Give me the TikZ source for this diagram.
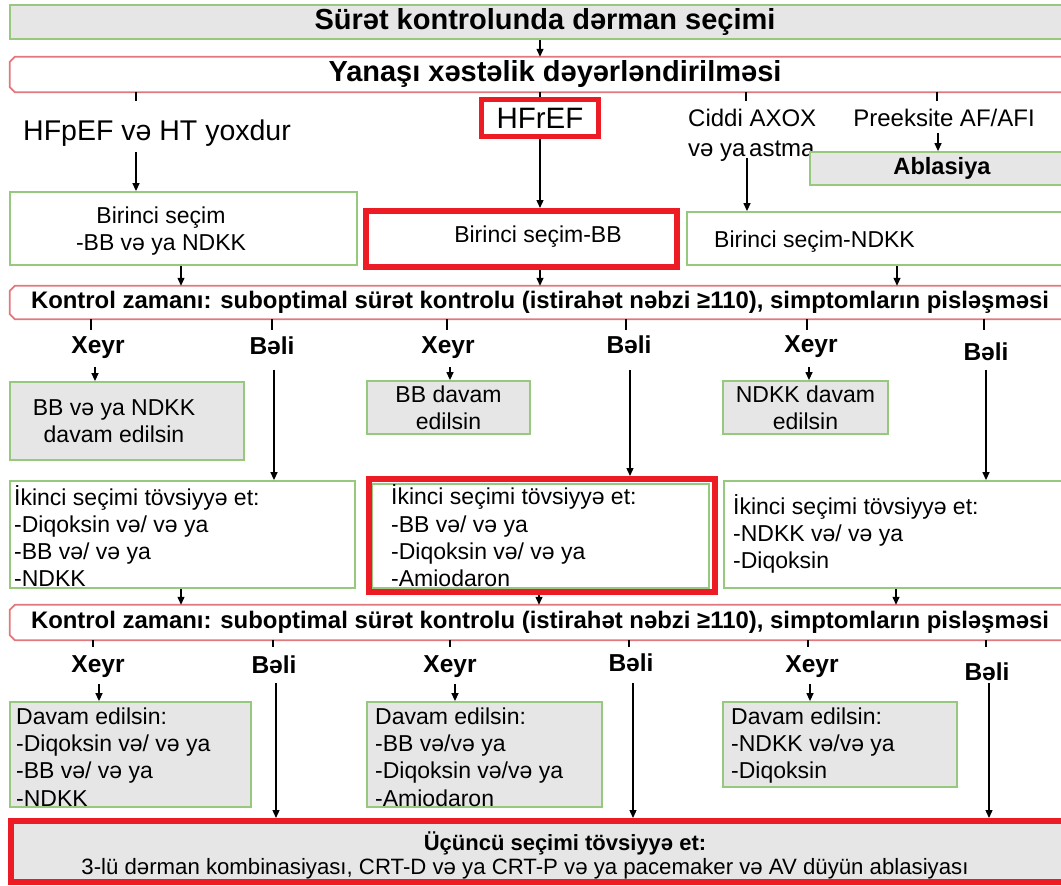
\documentclass[tikz,border=0pt]{standalone}
\usepackage{fontspec}
\setmainfont{Liberation Sans}
\usetikzlibrary{arrows.meta}

\definecolor{boxgreen}{RGB}{150,200,125}
\definecolor{boxgrey}{RGB}{230,230,230}
\definecolor{bannerpink}{RGB}{225,120,125}
\definecolor{alertred}{RGB}{237,28,36}

% outline with cut-off corners around a banner node
\newcommand\chamferframe[1]{%
  \draw[bannerline]
    ([xshift=5pt]#1.north west) -- ([xshift=-5pt]#1.north east)
    -- ([yshift=-5pt]#1.north east) -- ([yshift=5pt]#1.south east)
    -- ([xshift=-5pt]#1.south east) -- ([xshift=5pt]#1.south west)
    -- ([yshift=5pt]#1.south west) -- ([yshift=-5pt]#1.north west) -- cycle;}

\tikzset{
  greenbox/.style={draw=boxgreen, line width=1.8pt, fill=white, inner sep=0pt},
  greybox/.style={greenbox, fill=boxgrey},
  redframe/.style={draw=alertred, line width=6pt, fill=white, inner sep=0pt},
  banner/.style={rectangle, fill=white, inner sep=0pt},
  bannerline/.style={draw=bannerpink, line width=1.8pt, line join=miter},
  txt/.style={inner sep=0pt, font=\fontsize{23}{27.3}\selectfont},
  listtxt/.style={txt, anchor=west, align=left},
  ctrtxt/.style={txt, align=center, font=\fontsize{23}{27}\selectfont},
  headtxt/.style={font=\fontsize{29}{34}\selectfont\bfseries},
  bantxt/.style={font=\fontsize{23.9}{28}\selectfont\bfseries},
  answer/.style={inner sep=0pt, font=\fontsize{24.5}{28}\selectfont\bfseries},
  conn/.style={line width=1.3pt},
  arr/.style={conn, -{Triangle[length=8pt,width=7pt]}},
}

\begin{document}
\begin{tikzpicture}[x=1pt,y=-1pt]
\clip (0,0) rectangle (1061,886);
\fill[white] (0,0) rectangle (1061,886);

% ---------- heading and comorbidity banner ----------
\node[greybox, minimum width=1070pt, minimum height=34pt, headtxt] (title) at (545,22) {Sürət kontrolunda dərman seçimi};
\node[banner, minimum width=1090pt, minimum height=35pt, headtxt] (yan) at (555,74.5) {Yanaşı xəstəlik dəyərləndirilməsi};
\chamferframe{yan}

\coordinate (colA) at (136,0);
\coordinate (colB) at (540,0);
\coordinate (colC) at (747,0);
\coordinate (colD) at (938,0);

\draw[arr] (title.south -| colB) -- (yan.north -| colB);

% ---------- comorbidity branches ----------
\node[inner sep=0pt, font=\fontsize{28.5}{32}\selectfont] (hfpef) at (157,133) {HFpEF və HT yoxdur};
\node[redframe, line width=5pt, minimum width=117pt, minimum height=37pt,
      font=\fontsize{29.5}{32}\selectfont] (hfref) at (540,118) {HFrEF};
\node[inner sep=0pt, anchor=west, align=left, font=\fontsize{24}{30}\selectfont] (copd) at (688,135) {Ciddi AXOX\\və ya\hspace{-3pt} astma};
\node[inner sep=0pt, font=\fontsize{24}{28}\selectfont] (preex) at (944,118) {Preeksite AF/AFI};
\node[greybox, minimum width=264pt, minimum height=33pt, font=\fontsize{23.6}{28}\selectfont\bfseries] (abl) at (942,168.5) {Ablasiya};

\coordinate (stubA) at (136,101);
\coordinate (stubC) at (746,101);
\coordinate (stubD) at (937,101);
\draw[conn] (yan.south -| stubA) -- (stubA);
\draw[conn] (yan.south -| colB) -- (hfref.north);
\draw[conn] (yan.south -| stubC) -- (stubC);
\draw[conn] (yan.south -| stubD) -- (stubD);

% ---------- first choice ----------
\node[greenbox, minimum width=347pt, minimum height=73pt] (first1) at (183.5,228.5) {};
\node[ctrtxt] (first1t) at (161,231) {Birinci seçim\\-BB və ya NDKK};
\node[redframe, minimum width=311pt, minimum height=56pt] (first2) at (521.5,239) {};
\node[txt] (first2t) at (538,237) {Birinci seçim-BB};
\node[greenbox, minimum width=413pt, minimum height=53pt] (first3) at (893.5,238.5) {};
\node[txt, anchor=west] (first3t) at (714,242) {Birinci seçim-NDKK};

\coordinate (fromA) at (136,152);
\coordinate (fromC) at (747,158);
\coordinate (fromD) at (938,133);
\draw[arr] (fromA) -- (first1.north -| fromA);
\draw[arr] (hfref.south) -- (first2.north -| hfref.south);
\draw[arr] (fromC) -- (first3.north -| fromC);
\draw[arr] (fromD) -- (abl.north -| fromD);

% ---------- first check ----------
\node[banner, minimum width=1060pt, minimum height=33pt, bantxt] (chk1) at (540,302.5)
  {Kontrol zamanı: suboptimal sürət kontrolu (istirahət nəbzi ≥110), simptomların pisləşməsi};
\chamferframe{chk1}

\coordinate (colE) at (181,0);
\coordinate (colG) at (897,0);
\draw[arr] (first1.south -| colE) -- (chk1.north -| colE);
\draw[arr] (first2.south -| colB) -- (chk1.north -| colB);
\draw[arr] (first3.south -| colG) -- (chk1.north -| colG);

\foreach \x/\n in {91/a,272/b,447/c,626/d,807/e,984/f}{
  \coordinate (t1\n) at (\x,330);
  \draw[conn] (chk1.south -| t1\n) -- (t1\n);
}

\node[answer] (no1a) at (98,348) {Xeyr};
\node[answer] (yes1a) at (272,346) {Bəli};
\node[answer] (no1b) at (448,348) {Xeyr};
\node[answer] (yes1b) at (629,345) {Bəli};
\node[answer] (no1c) at (811,347) {Xeyr};
\node[answer] (yes1c) at (986,352) {Bəli};

% ---------- continue / second choice ----------
\node[greybox, minimum width=234pt, minimum height=78pt] (cont1) at (127,421) {};
\node[ctrtxt] (cont1t) at (114,421) {BB və ya NDKK\\davam edilsin};
\node[greybox, minimum width=163pt, minimum height=53pt, ctrtxt] (cont2) at (448.5,407.5) {BB davam\\edilsin};
\node[greybox, minimum width=165pt, minimum height=53pt, ctrtxt] (cont3) at (805.5,407.5) {NDKK davam\\edilsin};

\node[greenbox, minimum width=345pt, minimum height=107pt] (sec1) at (182.5,534.5) {};
\node[listtxt] (sec1t) at (14,536) {İkinci seçimi tövsiyyə et:\\-Diqoksin və/ və ya\\-BB və/ və ya\\-NDKK};
\node[greenbox, minimum width=337pt, minimum height=104pt] (sec2in) at (540.5,536) {};
\node[redframe, fill=none, minimum width=346pt, minimum height=113pt] (sec2) at (542,535.5) {};
\node[listtxt] (sec2t) at (391,536) {İkinci seçimi tövsiyyə et:\\-BB və/ və ya\\-Diqoksin və/ və ya\\-Amiodaron};
\node[greenbox, minimum width=376pt, minimum height=107pt] (sec3) at (912,534.5) {};
\node[listtxt] (sec3t) at (733,534) {İkinci seçimi tövsiyyə et:\\-NDKK və/ və ya\\-Diqoksin};

\foreach \x/\n in {95/a,450/b,809/c}{
  \coordinate (n1\n) at (\x,367);
}
\draw[arr] (n1a) -- (cont1.north -| n1a);
\draw[arr] (n1b) -- (cont2.north -| n1b);
\draw[arr] (n1c) -- (cont3.north -| n1c);
\foreach \x/\n in {274/a,630/b,986/c}{
  \coordinate (y1\n) at (\x,370);
}
\draw[arr] (y1a) -- (sec1.north -| y1a);
\draw[arr] (y1b) -- (sec2.north -| y1b);
\draw[arr] (y1c) -- (sec3.north -| y1c);

% ---------- second check ----------
\node[banner, minimum width=1060pt, minimum height=35pt, bantxt] (chk2) at (540,622.5)
  {Kontrol zamanı: suboptimal sürət kontrolu (istirahət nəbzi ≥110), simptomların pisləşməsi};
\chamferframe{chk2}

\coordinate (colF) at (539,0);
\coordinate (colH) at (896,0);
\draw[arr] (sec1.south -| colE) -- (chk2.north -| colE);
\draw[arr] (sec2.south -| colF) -- (chk2.north -| colF);
\draw[arr] (sec3.south -| colH) -- (chk2.north -| colH);

\foreach \x/\n in {93/a,273/b,450/c,629/d,808/e,986/f}{
  \coordinate (t2\n) at (\x,647);
  \draw[conn] (chk2.south -| t2\n) -- (t2\n);
}

\node[answer] (no2a) at (98,667) {Xeyr};
\node[answer] (yes2a) at (274,665) {Bəli};
\node[answer] (no2b) at (450,667) {Xeyr};
\node[answer] (yes2b) at (631,663) {Bəli};
\node[answer] (no2c) at (812,667) {Xeyr};
\node[answer] (yes2c) at (987,672) {Bəli};

% ---------- keep going / third choice ----------
\node[greybox, minimum width=241pt, minimum height=105pt] (keep1) at (130.5,754.5) {};
\node[listtxt] (keep1t) at (16,757) {Davam edilsin:\\-Diqoksin və/ və ya\\-BB və/ və ya\\-NDKK};
\node[greybox, minimum width=235pt, minimum height=105pt] (keep2) at (484.5,754.5) {};
\node[listtxt] (keep2t) at (375,757) {Davam edilsin:\\-BB və/və ya\\-Diqoksin və/və ya\\-Amiodaron};
\node[greybox, minimum width=234pt, minimum height=85pt] (keep3) at (840,744.5) {};
\node[listtxt] (keep3t) at (731,745.5) {Davam edilsin:\\-NDKK və/və ya\\-Diqoksin};

\node[redframe, fill=boxgrey, minimum width=1089pt, minimum height=61pt] (third) at (555.5,851.5) {};
\node[inner sep=0pt, font=\fontsize{22}{26}\selectfont\bfseries] (thirdh) at (565,843) {Üçüncü seçimi tövsiyyə et:};
\node[inner sep=0pt, font=\fontsize{22.2}{26}\selectfont] (thirdt) at (525,869) {3-lü dərman kombinasiyası, CRT-D və ya CRT-P və ya pacemaker və AV düyün ablasiyası};

\foreach \x/\n in {99/a,455/b,810/c}{
  \coordinate (n2\n) at (\x,684);
}
\draw[arr] (n2a) -- (keep1.north -| n2a);
\draw[arr] (n2b) -- (keep2.north -| n2b);
\draw[arr] (n2c) -- (keep3.north -| n2c);
\foreach \x/\n in {276/a,633/b,989/c}{
  \coordinate (y2\n) at (\x,683);
}
\draw[arr] (y2a) -- (third.north -| y2a);
\draw[arr] (y2b) -- (third.north -| y2b);
\draw[arr] (y2c) -- (third.north -| y2c);
\end{tikzpicture}
\end{document}
